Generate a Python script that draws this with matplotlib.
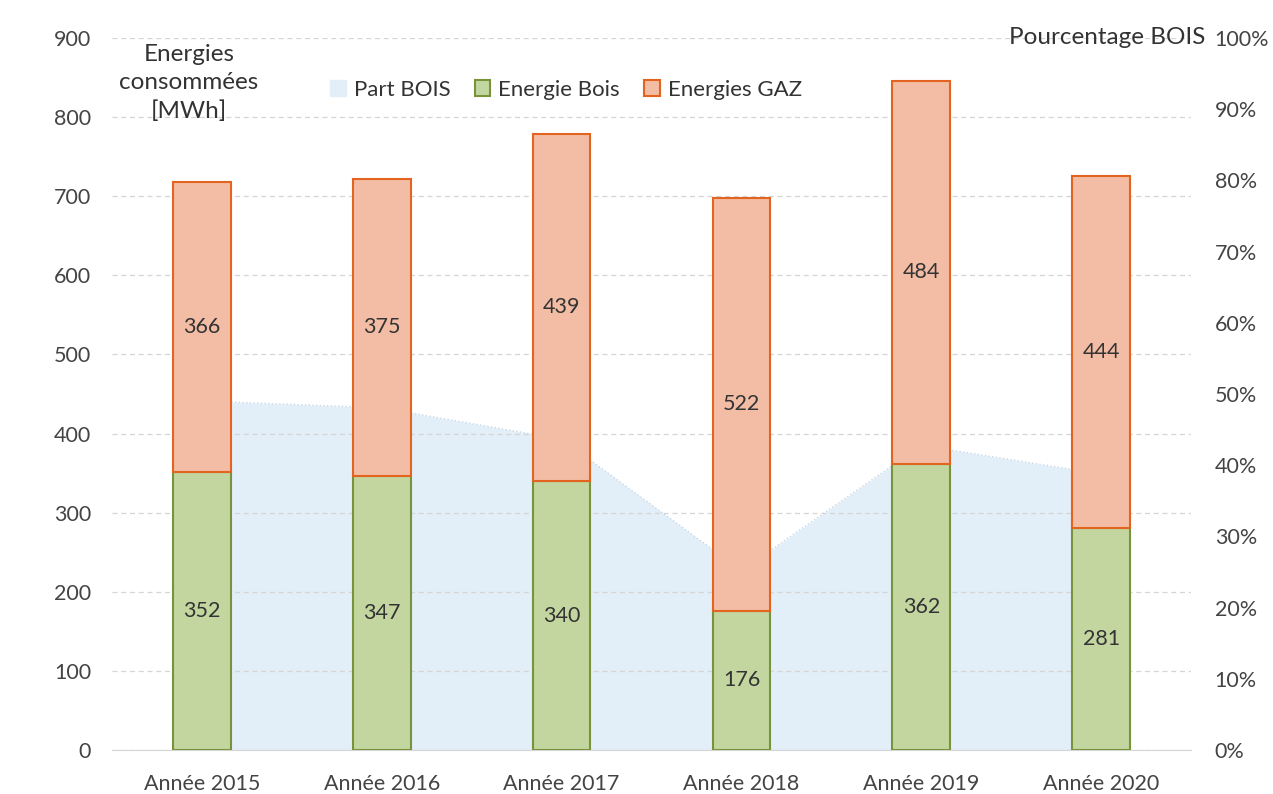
import numpy as np
import matplotlib.pyplot as plt
from matplotlib.patches import Patch

# données
annees = ['Année 2015', 'Année 2016', 'Année 2017', 'Année 2018', 'Année 2019', 'Année 2020']
energie_bois = [352, 347, 340, 176, 362, 281]
energie_gaz = [366, 375, 439, 522, 484, 444]
# part BOIS = bois / total
part_bois = [b / (b + g) for b, g in zip(energie_bois, energie_gaz)]

plt.rcParams['font.family'] = ['Lato', 'DejaVu Sans']

fig = plt.figure(figsize=(12.73, 7.94), dpi=100)
ax = fig.add_axes([0.088, 0.0554, 0.8476, 0.8967])
ax2 = ax.twinx()

x = np.arange(len(annees))

# zone Part BOIS (axe secondaire), derrière les barres
ax2.fill_between(x, part_bois, 0, color='#e2eef8', linewidth=0, zorder=1)
ax2.plot(x, part_bois, color='#c8d8e6', lw=1, ls=':', zorder=1)
ax2.set_ylim(0, 1)
ax2.set_yticks(np.arange(0, 1.01, 0.1))
ax2.set_yticklabels(['%d%%' % v for v in range(0, 101, 10)])
ax.set_zorder(ax2.get_zorder() + 1)
ax.patch.set_visible(False)

w = 0.32
ax.bar(x, energie_bois, w, color='#c4d6a0', edgecolor='#77933c', linewidth=1.5, label='Energie Bois', zorder=3)
ax.bar(x, energie_gaz, w, bottom=energie_bois, color='#f3bda5', edgecolor='#e2641f', linewidth=1.5,
       label='Energies GAZ', zorder=3)

for i in range(len(annees)):
    ax.text(x[i], energie_bois[i] / 2, str(energie_bois[i]), ha='center', va='center', fontsize=15.5,
            color='#333333', zorder=4)
    ax.text(x[i], energie_bois[i] + energie_gaz[i] / 2, str(energie_gaz[i]), ha='center', va='center',
            fontsize=15.5, color='#333333', zorder=4)

ax.set_xlim(-0.5, 5.5)
ax.set_ylim(0, 900)
ax.set_yticks(range(0, 901, 100))
ax.set_xticks(x)
ax.set_xticklabels(annees)
ax.yaxis.grid(True, color='#d5d5d5', ls=(0, (4, 3)), lw=0.9, zorder=0)
ax.set_axisbelow(True)

for a in (ax, ax2):
    for s in a.spines.values():
        s.set_visible(False)
    a.tick_params(length=0, labelsize=15.5, colors='#444444')
ax.tick_params(axis='y', pad=15)
ax.tick_params(axis='x', pad=17)
ax2.tick_params(axis='y', pad=17)
ax.spines['bottom'].set_visible(True)
ax.spines['bottom'].set_color('#d5d5d5')

# titres des axes
fig.text(189 / 1273, 1 - 83 / 794, 'Energies\nconsommées\n[MWh]', ha='center', va='center', fontsize=17.5,
         color='#333333', linespacing=1.4)
fig.text(1205 / 1273, 1 - 38 / 794, 'Pourcentage BOIS', ha='right', va='center', fontsize=17.5, color='#333333')

# légende
handles = [Patch(facecolor='#e2eef8', edgecolor='#e2eef8', label='Part BOIS'),
           Patch(facecolor='#c4d6a0', edgecolor='#77933c', lw=1.5, label='Energie Bois'),
           Patch(facecolor='#f3bda5', edgecolor='#e2641f', lw=1.5, label='Energies GAZ')]
fig.legend(handles=handles, loc='center', bbox_to_anchor=(566 / 1273, 1 - 90 / 794), ncol=3, frameon=False,
           fontsize=16, handlelength=0.7, handleheight=0.7, handletextpad=0.35, columnspacing=1.1,
           labelcolor='#333333')

fig.savefig('out.png', dpi=100)
